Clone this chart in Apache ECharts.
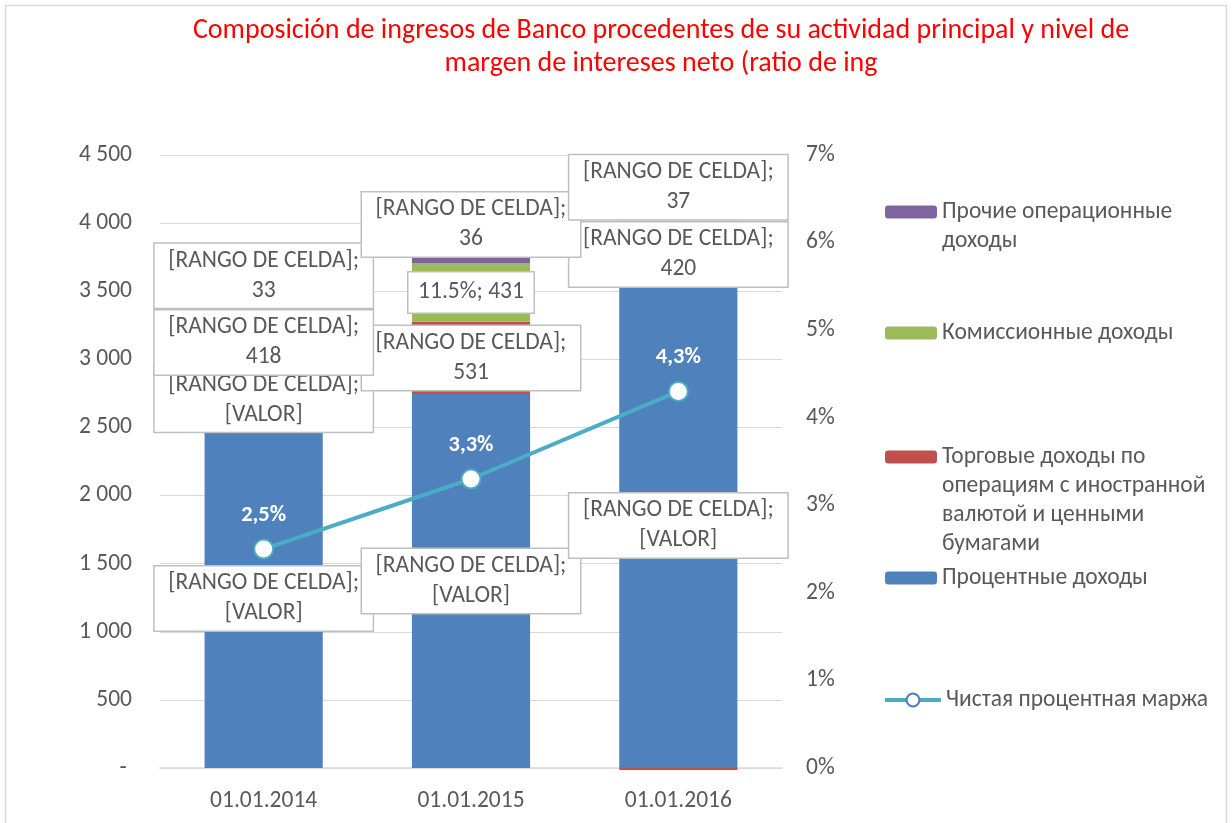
<!DOCTYPE html>
<html>
<head>
<meta charset="utf-8">
<script src="https://cdn.jsdelivr.net/npm/echarts@6/dist/echarts.min.js"></script>
<style>
html,body{margin:0;padding:0;background:#fff;}
#chart{width:1232px;height:823px;}
</style>
</head>
<body>
<div id="chart"></div>
<script>
// ---- data ----
const categories = ['01.01.2014', '01.01.2015', '01.01.2016'];
const interestIncome = [2490, 2745, 3560];      // Процентные доходы
const tradingIncome = [425, 531, -15];          // Торговые доходы ...
const commissionIncome = [418, 431, 420];       // Комиссионные доходы
const otherIncome = [33, 36, 37];               // Прочие операционные доходы
const netInterestMargin = [2.5, 3.3, 4.3];      // Чистая процентная маржа, %

const interestLabelText = ['[VALOR]', '[VALOR]', '[VALOR]'];
const tradingLabelText = ['[VALOR]', '531', null];
const commissionLabelText = ['418', '11.5%; 431', '420'];
const otherLabelText = ['33', '36', '37'];

const seriesNames = [
  'Процентные доходы',
  'Торговые доходы по\nоперациям с иностранной\nвалютой и ценными\nбумагами',
  'Комиссионные доходы',
  'Прочие операционные\nдоходы',
  'Чистая процентная маржа'
];
const leftTicks = { min: 0, max: 4500, interval: 500 };
const rightTicks = { min: 0, max: 7, interval: 1 };

const FONT = 'Carlito, Lato, "Open Sans", sans-serif';
const GRAY = '#595959';
const FS = 23.5;
const colors = ['#4f81bd', '#c0504d', '#9bbb59', '#8064a2', '#4bacc6'];

const boxLabel = {
  show: true,
  position: 'inside',
  color: GRAY,
  fontFamily: FONT,
  fontSize: FS,
  lineHeight: 30,
  backgroundColor: '#fff',
  borderColor: '#bfbfbf',
  borderWidth: 1.5,
  padding: [2, 6],
  width: 206,
  align: 'center'
};

function makeData(values, texts, special) {
  return values.map((v, i) => {
    const item = { value: v };
    if (texts[i] === null) item.label = { show: false };
    if (special && special[i]) item.label = special[i];
    return item;
  });
}
function rangeFormatter(texts) {
  return p => '[RANGO DE CELDA];\n' + texts[p.dataIndex];
}

const barBase = { type: 'bar', stack: 'total', barWidth: '57%', yAxisIndex: 0 };

const series = [
  Object.assign({}, barBase, {
    name: seriesNames[0],
    itemStyle: { color: colors[0] },
    data: makeData(interestIncome, interestLabelText),
    label: Object.assign({}, boxLabel, { formatter: rangeFormatter(interestLabelText) })
  }),
  Object.assign({}, barBase, {
    name: seriesNames[1],
    clip: false,
    itemStyle: { color: colors[1] },
    data: makeData(tradingIncome, tradingLabelText),
    label: Object.assign({}, boxLabel, { formatter: rangeFormatter(tradingLabelText) })
  }),
  Object.assign({}, barBase, {
    name: seriesNames[2],
    itemStyle: { color: colors[2] },
    data: makeData(commissionIncome, commissionLabelText, [null, {
      formatter: p => commissionLabelText[p.dataIndex],
      width: 111, padding: [5, 7], lineHeight: 30
    }, null]),
    label: Object.assign({}, boxLabel, { formatter: rangeFormatter(commissionLabelText) })
  }),
  Object.assign({}, barBase, {
    name: seriesNames[3],
    itemStyle: { color: colors[3] },
    data: makeData(otherIncome, otherLabelText),
    label: Object.assign({}, boxLabel, { offset: [0, -36], formatter: rangeFormatter(otherLabelText) })
  }),
  {
    type: 'line',
    name: seriesNames[4],
    yAxisIndex: 1,
    data: netInterestMargin,
    z: 5,
    lineStyle: { color: colors[4], width: 4 },
    symbol: 'circle',
    symbolSize: 19,
    itemStyle: { color: '#fff', borderColor: colors[4], borderWidth: 2 },
    label: {
      show: true, position: 'top', distance: 12,
      color: '#fff', fontWeight: 'bold', fontFamily: FONT, fontSize: FS - 1,
      formatter: p => p.value.toFixed(1).replace('.', ',') + '%'
    }
  }
];

// legend: one component per item to mimic Excel spacing (icon beside first text line)
const legendRows = [
  { name: seriesNames[3], y: 212, lines: 2 },
  { name: seriesNames[2], y: 333, lines: 1 },
  { name: seriesNames[1], y: 457, lines: 4 },
  { name: seriesNames[0], y: 578, lines: 1 },
  { name: seriesNames[4], y: 700, lines: 1 }
];
const LH = 29;
const legends = legendRows.map(r => {
  const H = (2 * r.lines - 1) * LH;
  const isLine = r.name === seriesNames[4];
  const pad = r.lines - 1;
  const lg = {
    show: true,
    orient: 'vertical',
    left: isLine ? 883 : 885,
    top: r.y - H / 2,
    padding: 0,
    itemGap: 0,
    itemWidth: isLine ? 56 : 52,
    itemHeight: isLine ? 16 : 13,
    selectedMode: false,
    data: [r.name],
    formatter: name => (pad > 0 ? new Array(pad).fill(' ').join('\n') + '\n' : '') + name,
    textStyle: { color: GRAY, fontFamily: FONT, fontSize: FS, lineHeight: LH }
  };
  if (isLine) {
    lg.lineStyle = { width: 4, color: colors[4] };
    lg.itemStyle = { color: '#fff', borderColor: '#4a7ebb', borderWidth: 2 };
  }
  return lg;
});

const chart = echarts.init(document.getElementById('chart'), null, { renderer: 'canvas' });
chart.setOption({
  backgroundColor: '#fff',
  animation: false,
  title: {
    text: 'Composición de ingresos de Banco procedentes de su actividad principal y nivel de\nmargen de intereses neto (ratio de ing',
    left: 656,
    textAlign: 'center',
    top: 9,
    textStyle: { color: '#ff0000', fontFamily: FONT, fontSize: 28, fontWeight: 'normal', lineHeight: 33 }
  },
  graphic: [{
    type: 'rect',
    shape: { x: 5.5, y: 5.5, width: 1221, height: 830 },
    style: { fill: 'none', stroke: '#d9d9d9', lineWidth: 1.5 },
    silent: true, z: -1
  }],
  legend: legends,
  grid: { left: 160, right: 450, top: 155, bottom: 55, containLabel: false },
  xAxis: {
    type: 'category',
    data: categories,
    axisTick: { show: false },
    axisLine: { lineStyle: { color: '#d9d9d9', width: 1.5 } },
    axisLabel: { color: GRAY, fontFamily: FONT, fontSize: FS, margin: 21 }
  },
  yAxis: [{
    type: 'value',
    min: leftTicks.min, max: leftTicks.max, interval: leftTicks.interval,
    axisLine: { show: false }, axisTick: { show: false },
    splitLine: { lineStyle: { color: '#d9d9d9', width: 1.2 } },
    axisLabel: {
      color: GRAY, fontFamily: FONT, fontSize: FS, margin: 28,
      formatter: v => {
        if (v === 0) return '- ';
        if (v >= 1000) return Math.floor(v / 1000) + ' ' + String(v % 1000).padStart(3, '0');
        return String(v);
      }
    }
  }, {
    type: 'value',
    min: rightTicks.min, max: rightTicks.max, interval: rightTicks.interval,
    axisLine: { show: false }, axisTick: { show: false },
    splitLine: { show: false },
    axisLabel: { color: GRAY, fontFamily: FONT, fontSize: FS, margin: 24, formatter: v => v + '%' }
  }],
  series: series
});
</script>
</body>
</html>
